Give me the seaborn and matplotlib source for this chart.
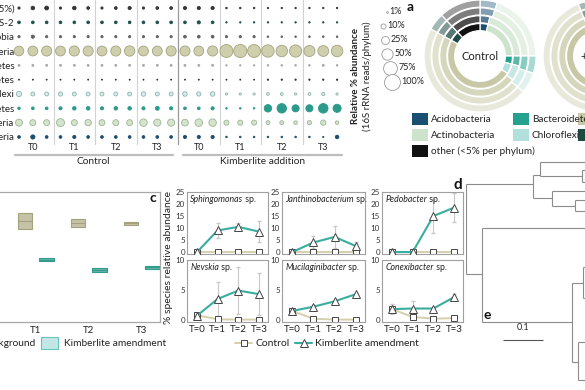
import numpy as np
import pandas as pd
import matplotlib
matplotlib.use("Agg")
import matplotlib.pyplot as plt
import seaborn as sns
from matplotlib.patches import Rectangle
from matplotlib.colors import to_rgb

sns.set_theme(style="white")
plt.rcParams['font.family'] = ['Lato', 'DejaVu Sans']

W, H = 585, 390

# ---------------- panel b: bubble chart data ----------------
phyla = ["other (<5%)", "WPS-2", "Verrucomicrobia", "Proteobacteria", "Planctomycetes",
         "Gemmatimonadetes", "Chloroflexi", "Bacteroidetes", "Actinobacteria", "Acidobacteria"]
timepoints = ["T0", "T1", "T2", "T3"]
treatments = ["Control", "Kimberlite addition"]
# 24 samples: Control T0-T3 (3 reps each), then Kimberlite T0-T3 (3 reps each)
ab_other = [2, 5, 6, 2, 5, 3, 2, 3, 4, 2, 3, 3, 4, 4, 4, 1, 1, 1, 0.8, 0.8, 0.8, 0.8, 0.8, 0.8]
ab_wps2 = [3, 3, 3, 3, 3, 3, 3, 3, 3, 3, 3, 3, 3, 4, 3, 0.8, 0.8, 0.8, 0.8, 0.8, 0.8, 0.8, 0.8, 0.8]
ab_verru = [2, 4, 2, 2, 2, 2, 2, 2, 2, 2, 2, 2, 3, 3, 3, 2, 2, 2, 1, 1, 1, 1, 1, 1]
ab_proteo = [36, 38, 40, 38, 40, 40, 38, 40, 42, 38, 38, 40, 40, 38, 40, 66, 68, 66, 60, 52, 58, 48, 46, 52]
ab_plancto = [1.5] * 12 + [1.5, 1.5, 1.5, 0.8, 0.8, 0.8, 1, 1, 1, 1, 1.5, 1]
ab_gemma = [0.4] * 12 + [0.4, 0.4, 0.4, 0.4, 0.4, 0.4, 0.7, 0.7, 0.7, 0.7, 0.7, 0.7]
ab_chloro = [11, 6, 6, 7, 6, 6, 6, 6, 6, 8, 6, 6, 8, 7, 8, 2, 2, 2, 3, 3, 2, 3, 4, 2]
ab_bacter = [2.5, 3, 3, 4, 5, 5, 4, 5, 5, 4, 6, 4, 3, 3, 4, 1, 1, 1, 22, 35, 20, 20, 36, 26]
ab_actino = [19, 14, 14, 25, 14, 16, 14, 14, 14, 22, 20, 20, 18, 22, 22, 10, 10, 10, 6, 6, 5, 7, 11, 5]
ab_acido = [3, 7, 3, 3, 4, 3, 3, 3, 3, 3, 3, 3, 4, 4, 4, 1, 1, 1, 1, 1, 1, 1, 0.6, 5]
abund = [ab_other, ab_wps2, ab_verru, ab_proteo, ab_plancto, ab_gemma,
         ab_chloro, ab_bacter, ab_actino, ab_acido]
size_legend = [1, 10, 25, 50, 75, 100]

bub_fill = {"other (<5%)": "#353535", "WPS-2": "#1f4f4a", "Verrucomicrobia": "#606060",
            "Proteobacteria": "#cfcfae", "Planctomycetes": "#a8a8a8", "Gemmatimonadetes": "#333333",
            "Chloroflexi": "#d6ecea", "Bacteroidetes": "#2a9a8a", "Actinobacteria": "#d3e3cc",
            "Acidobacteria": "#1e4d6b"}
bub_edge = dict(bub_fill)
bub_edge.update({"Proteobacteria": "#a3a37f", "Chloroflexi": "#8fb5ae", "Actinobacteria": "#9db595"})

# ---------------- panel a: donut data ----------------
donut_phyla = ["Acidobacteria", "Actinobacteria", "Bacteroidetes", "Chloroflexi",
               "Proteobacteria", "WPS-2", "other (<5% per phylum)"]
donut_base = ["#1b4f72", "#cde3cb", "#26a08f", "#b3dfdc", "#c8c8a6", "#1e4a44", "#111111"]
control_rings = [[4, 21, 4, 5, 49, 5, 12],
                 [4, 21, 4, 6, 48, 5, 12],
                 [5, 20, 5, 6, 47, 5, 12],
                 [5, 20, 5, 6, 47, 5, 12]]
kimb_rings = [[1, 13, 22, 3, 55, 2, 4],
              [1, 14, 21, 3, 55, 2, 4],
              [1, 14, 20, 3, 56, 2, 4],
              [1, 15, 19, 3, 56, 2, 4]]

# ---------------- panel c: boxplot data ----------------
box_time = ["T1"] * 5 + ["T2"] * 5 + ["T3"] * 5
box_bg = [69, 71.5, 78, 83.8, 86, 71, 73, 76, 79, 81, 73.5, 74.6, 75.8, 77, 78]
box_kim = [46, 47, 48, 49, 50, 37.5, 38.5, 40, 41.5, 42.5, 40, 40.8, 42, 43, 44]

# ---------------- species line plots ----------------
species = ["Sphingomonas", "Janthinobacterium", "Pedobacter", "Nevskia", "Mucilaginibacter", "Conexibacter"]
t_labels = ["T=0", "T=1", "T=2", "T=3"]
kim_mean = [[0, 9, 10.5, 8.5], [0, 4, 6.3, 2.5], [0, 0, 15, 18.5],
            [0.7, 3.5, 4.9, 4.3], [1.5, 2.2, 3.1, 4.3], [1.8, 1.9, 1.9, 3.8]]
kim_err = [[0, 3, 1.5, 4.5], [0, 2.5, 4.5, 1.5], [0, 0, 7, 6],
           [0.3, 2.8, 3.9, 3.5], [0.3, 0.2, 0.2, 0.2], [0.8, 1.2, 0, 0.5]]
ctl_mean = [[0, 0, 0, 0], [0, 0, 0, 0], [0, 0, 0, 0],
            [0.8, 0.1, 0.05, 0.05], [1.5, 0.2, 0.05, 0.05], [1.8, 0.5, 0.2, 0.3]]

# ---------------- tree (d/e), branch lengths in substitutions/site ----------------
tree_h_y = [2.9, 2.0, 0.7, 2.1, 1.5, 2.7, 4.3, 3.6, 5.1, 4.5, 5.6, 11.9, 7.3, 16.7, 12.8, 11.2, 14.3, 20.7, 18.7, 22.5]
tree_h_x0 = [0, 0.1675, 0.185, 0.185, 0.29, 0.29, 0.1675, 0.215, 0.215, 0.2725, 0.2725, 0, 0.04, 0.04, 0.265, 0.2925, 0.2925, 0.265, 0.28, 0.28]
tree_h_x1 = [0.1675, 0.185, 0.34, 0.29, 0.34, 0.34, 0.215, 0.34, 0.2725, 0.34, 0.34, 0.04, 0.34, 0.265, 0.2925, 0.34, 0.34, 0.28, 0.34, 0.34]
tree_v_x = [0, 0.1675, 0.185, 0.29, 0.215, 0.2725, 0.04, 0.265, 0.2925, 0.28]
tree_v_y0 = [2.9, 2.0, 0.7, 1.5, 3.6, 4.5, 7.3, 12.8, 11.2, 18.7]
tree_v_y1 = [11.9, 4.3, 2.1, 2.7, 5.1, 5.6, 16.7, 20.7, 14.3, 22.5]
scale_len = 0.1


def frac(x0, y0, x1, y1):
    return [x0 / W, 1 - y1 / H, (x1 - x0) / W, (y1 - y0) / H]


def lighten(c, f):
    r = np.array(to_rgb(c))
    return tuple(r + (1 - r) * f)


fig = plt.figure(figsize=(5.85, 3.9), dpi=100)
fig.patch.set_facecolor("white")

# ======== panel b: bubble chart ========
SMAX = 132.0
axb = fig.add_axes(frac(10.7, 0, 344, 145))
axb.patch.set_visible(False)
for j, ph in enumerate(phyla):
    d = pd.DataFrame({"col": np.arange(24), "row": j, "pct": abund[j]})
    sns.scatterplot(data=d, x="col", y="row", size="pct", sizes=(0, SMAX), size_norm=(0, 100),
                    color=bub_fill[ph], edgecolor=bub_edge[ph], linewidth=0.6,
                    legend=False, ax=axb, zorder=3)
axb.set_xlim(-0.6, 23.5)
axb.set_ylim(9.56, -0.56)
axb.set_xticks([])
axb.set_yticks(range(len(phyla)))
axb.set_yticklabels(phyla, fontsize=7, color="#222222")
axb.tick_params(axis="y", length=0, pad=-2.7)
axb.set_xlabel("")
axb.set_ylabel("")
for s in axb.spines.values():
    s.set_visible(False)
for xv in [2.5, 5.5, 8.5, 14.5, 17.5, 20.5]:
    axb.axvline(xv, color="#d2d2d2", lw=0.8, zorder=1)
axb.axvline(11.5, color="#9a9a9a", lw=0.9, zorder=1)
for g in range(8):
    axb.text(g * 3 + 1, 9.72, timepoints[g % 4], ha="center", va="center", fontsize=6.5, color="#222")
axb.plot([-0.3, 11.1], [10.26, 10.26], color="#bdbdbd", lw=1.6, clip_on=False)
axb.plot([11.85, 23.35], [10.26, 10.26], color="#bdbdbd", lw=1.6, clip_on=False)
axb.text(5.4, 10.72, treatments[0], ha="center", va="center", fontsize=7.3, color="#222")
axb.text(17.6, 10.72, treatments[1], ha="center", va="center", fontsize=7.3, color="#222")

# ======== panel a: donuts ========
radii = [0.58, 0.72, 0.86, 1.0]
light = [0.0, 0.25, 0.45, 0.6]


def donut(ax, rings, label, label_ha="center", label_x=0.0):
    for k, vals in enumerate(rings):
        cols = [lighten(c, light[k]) for c in donut_base]
        ax.pie(vals, radius=radii[k], colors=cols, startangle=90, counterclock=False,
               wedgeprops=dict(width=0.128, edgecolor="white", linewidth=0.9))
    ax.set_xlim(-1, 1)
    ax.set_ylim(-1, 1)
    ax.set_aspect("equal")
    ax.text(label_x, 0, label, ha=label_ha, va="center", fontsize=8, color="#222")


axd1 = fig.add_axes(frac(424, 0, 536, 112))
donut(axd1, control_rings, "Control")
axd2 = fig.add_axes(frac(543, 0, 655, 112))
donut(axd2, kimb_rings, "+ Kimberlite", label_ha="left", label_x=-0.32)

# ======== panel c: boxplot ========
axc = fig.add_axes(frac(-43.5, 192, 160, 322))
dfc = pd.DataFrame({"time": box_time * 2, "value": box_bg + box_kim,
                    "group": ["Background"] * 15 + ["Kimberlite amendment"] * 15})
hue_order = ["Background", "Kimberlite amendment"]
box_fill = {"Background": "#c9c7a1", "Kimberlite amendment": "#5ec2b2"}
box_line = {"Background": "#a4a27c", "Kimberlite amendment": "#2f9c8c"}
for grp in hue_order:
    sns.boxplot(data=dfc[dfc.group == grp], x="time", y="value", hue="group", order=timepoints,
                hue_order=hue_order, palette=box_fill, dodge=True, width=0.8, gap=0.33,
                linecolor=box_line[grp], linewidth=0.8, whis=0, showcaps=False,
                showfliers=False, legend=False, ax=axc)
axc.set_xlim(-0.5, 3.34)
axc.set_ylim(0, 100)
axc.set_yticks([])
axc.set_xlabel("")
axc.set_ylabel("")
axc.tick_params(axis="x", length=0, labelsize=7, pad=3, colors="#222")
for s in axc.spines.values():
    s.set_color("#a8a8a8")
    s.set_linewidth(0.9)

# ======== species line plots ========
cols_px = [(187, 268), (282, 365), (382, 463)]
rows_px = [(192, 254), (260, 322)]
teal = "#3aae9e"
khaki = "#d6cfae"
tt = np.arange(4)
for i, sp in enumerate(species):
    r, c = divmod(i, 3)
    x0, x1 = cols_px[c]
    y0, y1 = rows_px[r]
    ax = fig.add_axes(frac(x0, y0, x1, y1))
    ax.errorbar(tt, kim_mean[i], yerr=kim_err[i], fmt="none", ecolor="#c8c8c8",
                elinewidth=0.8, capsize=1.5, zorder=1)
    sns.lineplot(x=tt, y=ctl_mean[i], color=khaki, lw=1.4, marker="s", markersize=4.5,
                 markerfacecolor="white", markeredgecolor="#444444", markeredgewidth=0.7,
                 ax=ax, zorder=2)
    sns.lineplot(x=tt, y=kim_mean[i], color=teal, lw=1.5, marker="^", markersize=5.5,
                 markerfacecolor="white", markeredgecolor="#444444", markeredgewidth=0.7,
                 ax=ax, zorder=3)
    ax.set_xlim(-0.48, 3.43)
    if r == 0:
        ax.set_ylim(-0.8, 25)
        ax.set_yticks([0, 5, 10, 15, 20, 25])
        ax.set_xticks([])
    else:
        ax.set_ylim(-0.35, 10)
        ax.set_yticks([0, 5, 10])
        ax.set_xticks(tt)
        ax.set_xticklabels(t_labels)
    ax.tick_params(axis="y", length=0, pad=1.5, labelsize=5.8, colors="#333")
    ax.tick_params(axis="x", length=0, pad=2, labelsize=7, colors="#222")
    ax.set_xlabel("")
    ax.set_ylabel("")
    for s in ax.spines.values():
        s.set_color("#a0a0a0")
        s.set_linewidth(0.8)
    t = ax.text(0.04, 0.95, sp, transform=ax.transAxes, style="italic", fontsize=6.3,
                va="top", ha="left", color="#222")
    ax.annotate(" sp.", xy=(1, 0), xycoords=t, va="bottom", ha="left", fontsize=6.3, color="#222")

# ======== tree ========
axt = fig.add_axes(frac(466, 155, 600, 390))
axt.patch.set_visible(False)
axt.hlines(tree_h_y, tree_h_x0, tree_h_x1, color="#8c8c8c", lw=0.8)
axt.vlines(tree_v_x, tree_v_y0, tree_v_y1, color="#8c8c8c", lw=0.8)
axt.hlines([18.5], [0.0925], [0.0925 + scale_len], color="#555", lw=0.8)
axt.text(0.0925 + scale_len / 2, 17.7, f"{scale_len:g}", ha="center", va="bottom", fontsize=6.5, color="#222")
axt.set_xlim(0, 0.335)
axt.set_ylim(23.5, 0)
axt.axis("off")

# ======== overlay: labels and legends ========
ov = fig.add_axes([0, 0, 1, 1])
ov.set_xlim(0, W)
ov.set_ylim(H, 0)
ov.axis("off")

# bubble y label
ov.text(355, 76, "Relative % abundance", rotation=90, ha="center", va="center", fontsize=7, fontweight="bold", color="#222")
ov.text(367, 76, "(16S rRNA reads/phylum)", rotation=90, ha="center", va="center", fontsize=7, color="#222")

# size legend
leg_x = [387, 383, 385, 387, 390, 392]
for k, p in enumerate(size_legend):
    yy = 12 + 14 * k
    ov.scatter([leg_x[k]], [yy], s=SMAX * p / 100, facecolor="white", edgecolor="#9a9a9a", linewidth=0.6, zorder=3)
    rpx = 8 * np.sqrt(p / 100)
    ov.text(leg_x[k] + rpx + 1.5, yy, f"{p}%", ha="left", va="center", fontsize=6.5, color="#222")

# panel letters
ov.text(410, 7, "a", ha="center", va="center", fontsize=10, fontweight="bold", color="#111")
ov.text(153, 198, "c", ha="center", va="center", fontsize=10, fontweight="bold", color="#111")
ov.text(458, 185, "d", ha="center", va="center", fontsize=11, fontweight="bold", color="#111")
ov.text(487, 315, "e", ha="center", va="center", fontsize=10, fontweight="bold", color="#111")

# donut legend
leg_items = [(412, 119, 0), (412, 135, 1), (412, 151, 6), (513, 119, 2), (513, 135, 3), (578, 119, 4), (578, 135, 5)]
for lx, ly, idx in leg_items:
    ov.add_patch(Rectangle((lx, ly - 6), 16, 12, facecolor=donut_base[idx], edgecolor="none"))
    ov.text(lx + 19, ly, donut_phyla[idx], ha="left", va="center", fontsize=7.2, color="#222")

# panel c legend
ov.text(35, 343, "Background", ha="right", va="center", fontsize=7.3, color="#222")
ov.add_patch(Rectangle((41, 337), 17, 12, facecolor="#c2e7e6", edgecolor="#6cc4b8", lw=0.8))
ov.text(64, 343, "Kimberlite amendment", ha="left", va="center", fontsize=7.3, color="#222")

# species y label
ov.text(168.5, 257, "% species relative abundance", rotation=90, ha="center", va="center", fontsize=7.5, color="#222")

# species legend
ov.plot([235, 252], [343, 343], color=khaki, lw=1.4)
ov.plot([243.5], [343], marker="s", ms=4.5, mfc="white", mec="#444", mew=0.7)
ov.text(255, 343, "Control", ha="left", va="center", fontsize=7.5, color="#222")
ov.plot([295, 312], [343, 343], color=teal, lw=1.5)
ov.plot([303.5], [343], marker="^", ms=5.5, mfc="white", mec="#444", mew=0.7)
ov.text(315, 343, "Kimberlite amendment", ha="left", va="center", fontsize=7.5, color="#222")

fig.savefig("out.png", dpi=100)
